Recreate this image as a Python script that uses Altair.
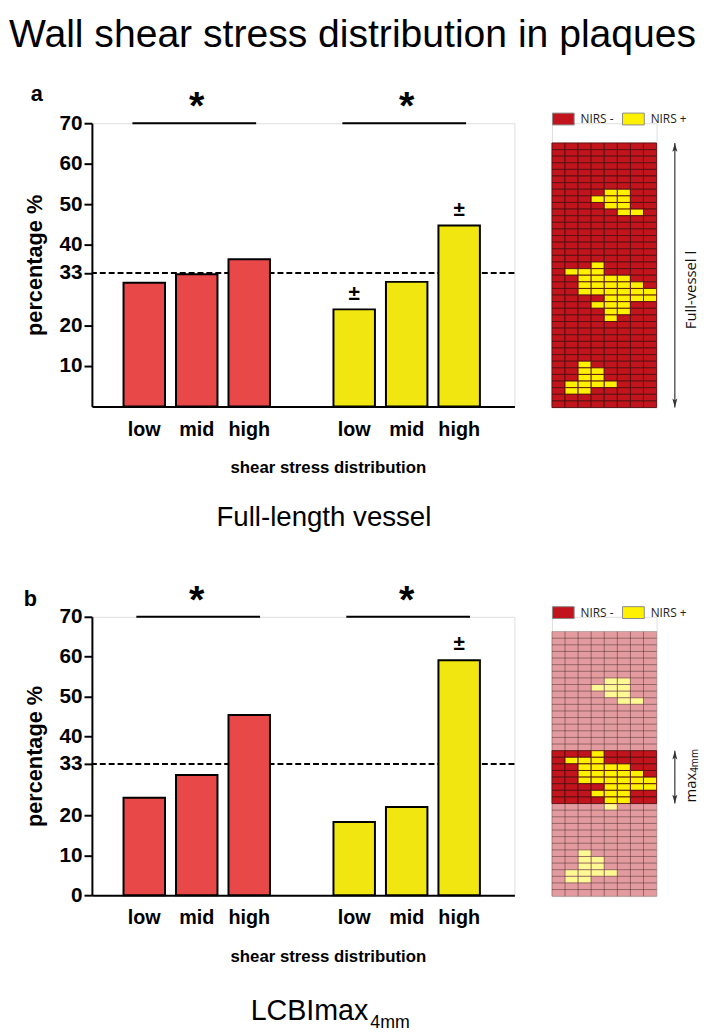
import altair as alt
import pandas as pd

# ---------------- data ----------------
groups = ["NIRS -", "NIRS +"]
levels = ["low", "mid", "high"]
full_nirs_neg = [30.6, 32.7, 36.4]
full_nirs_pos = [24.0, 30.8, 44.7]
lcbi_nirs_neg = [24.5, 30.2, 45.3]
lcbi_nirs_pos = [18.4, 22.2, 59.1]
reference_pct = [33]
sig_level = 70
y_ticks_a = [10, 20, 33, 40, 50, 60, 70]
y_ticks_b = [0, 10, 20, 33, 40, 50, 60, 70]
full_pm = [("NIRS +", "low"), ("NIRS +", "high")]
lcbi_pm = [("NIRS +", "high")]

grid_rows = 40
grid_cols = 8
nirs_pos_cells = {
    7: [4, 5], 8: [3, 4, 5], 9: [4, 5], 10: [5, 6],
    18: [3], 19: [1, 2, 3], 20: [2, 3, 4, 5], 21: [2, 3, 4, 5, 6],
    22: [2, 3, 4, 5, 6, 7], 23: [4, 5, 6, 7], 24: [3, 4, 5], 25: [4, 5], 26: [4],
    33: [2], 34: [2, 3], 35: [2, 3], 36: [1, 2, 3, 4], 37: [1, 2],
}
full_segment = [0, 40]
lcbi_segment = [18, 26]

# ---------------- style ----------------
FONT = "Liberation Sans"
RED = "#E94848"
YEL = "#F1E60F"
GRID_NEG = "#C1141D"
GRID_POS = "#FFF100"
BOX = "M-1,-0.545L1,-0.545L1,0.545L-1,0.545Z"
HEAD_UP = "M0,0L0.45,1.6L0,1.25L-0.45,1.6Z"
HEAD_DN = "M0,0L0.45,-1.6L0,-1.25L-0.45,-1.6Z"

slot_domain = [f"{groups[0]}|{l}" for l in levels] + ["gap"] + [f"{groups[1]}|{l}" for l in levels]
xscale = alt.Scale(domain=slot_domain, paddingInner=0.21, paddingOuter=0.63, align=0.478)


def bars_df(neg, pos):
    rows = []
    for g, vals in zip(groups, [neg, pos]):
        for l, v in zip(levels, vals):
            rows.append({"group": g, "level": l, "slot": f"{g}|{l}", "value": v})
    return pd.DataFrame(rows)


def txt(s):
    return pd.DataFrame({"t": [s]})


def bar_panel(neg, pos, ticks, pm, letter, letter_xy, sig_off, extra_layers, height):
    df = bars_df(neg, pos)
    xaxis = alt.Axis(
        title="shear stress distribution",
        labelExpr="datum.label == 'gap' ? '' : split(datum.label, '|')[1]",
        ticks=False, tickSize=0, domainWidth=2, domainColor="black",
        labelAngle=0, labelFontSize=20, labelFontWeight="bold", labelFont=FONT,
        labelColor="black", labelBaseline="alphabetic", labelPadding=29,
        titleFontSize=17, titleFontWeight="bold", titleFont=FONT, titleColor="black",
        titleX=239, titleY=67, titleBaseline="alphabetic",
    )
    yaxis = alt.Axis(
        values=ticks, title="percentage %", grid=False,
        domainWidth=2, domainColor="black", tickWidth=2, tickColor="black", tickSize=8,
        labelFontSize=21, labelFontWeight="bold", labelFont=FONT, labelColor="black",
        labelPadding=2, titleFontSize=22, titleFontWeight="bold", titleFont=FONT,
        titleColor="black", titlePadding=13,
    )
    yscale = alt.Scale(domain=[0, 70], nice=False)
    bars = alt.Chart(df).mark_bar(stroke="black", strokeWidth=2).encode(
        x=alt.X("slot:N", scale=xscale, axis=xaxis),
        y=alt.Y("value:Q", scale=yscale, axis=yaxis),
        color=alt.Color("group:N", scale=alt.Scale(domain=groups, range=[RED, YEL]), legend=None),
    )
    dash = alt.Chart(pd.DataFrame({"value": reference_pct})).mark_rule(
        strokeDash=[6, 3], strokeWidth=2, color="black"
    ).encode(y=alt.Y("value:Q", scale=yscale))
    sig = pd.DataFrame({
        "slot": [f"{g}|{levels[0]}" for g in groups],
        "slot2": [f"{g}|{levels[-1]}" for g in groups],
        "mid": [f"{g}|{levels[1]}" for g in groups],
        "value": [sig_level, sig_level],
        "t": ["*", "*"],
    })
    sig_rule = alt.Chart(sig).mark_rule(
        strokeWidth=2, color="black", xOffset=sig_off[0], x2Offset=sig_off[1]
    ).encode(x=alt.X("slot:N", scale=xscale), x2="slot2:N", y=alt.Y("value:Q", scale=yscale))
    stars = alt.Chart(sig).mark_text(
        fontSize=40, fontWeight="bold", font=FONT, baseline="alphabetic", dy=-4, color="black"
    ).encode(x=alt.X("mid:N", scale=xscale), y=alt.Y("value:Q", scale=yscale), text="t:N")
    pm_df = df[[(g, l) in pm for g, l in zip(df.group, df.level)]].assign(t="±")
    pms = alt.Chart(pm_df).mark_text(
        fontSize=21, fontWeight="bold", font=FONT, baseline="alphabetic", dy=-10, color="black"
    ).encode(x=alt.X("slot:N", scale=xscale), y=alt.Y("value:Q", scale=yscale), text="t:N")
    lab = alt.Chart(txt(letter)).mark_text(
        fontSize=22, fontWeight="bold", font=FONT, align="left", baseline="alphabetic", color="black"
    ).encode(x=alt.value(letter_xy[0]), y=alt.value(letter_xy[1]), text="t:N")
    layers = [dash, bars, sig_rule, stars, pms, lab] + extra_layers
    return alt.layer(*layers).properties(width=428, height=height)


def grid_panel(segment, pale, top_pad, height, arrow_text_layers):
    rows = []
    for r in range(grid_rows):
        for c in range(grid_cols):
            status = groups[1] if c in nirs_pos_cells.get(r, []) else groups[0]
            inside = (not pale) or (segment[0] <= r < segment[1])
            rows.append({"row": r, "col": c, "status": status, "inside": inside})
    gdf = pd.DataFrame(rows)
    xs = alt.Scale(domain=[0, grid_cols], nice=False, zero=False)
    ys = alt.Scale(domain=[top_pad, grid_rows], reverse=True, nice=False, zero=False)
    cells = alt.Chart(gdf).mark_rect(stroke="#551010", strokeWidth=0.9).transform_calculate(
        row2="datum.row + 1", col2="datum.col + 1"
    ).encode(
        x=alt.X("col:Q", scale=xs, axis=None), x2="col2:Q",
        y=alt.Y("row:Q", scale=ys, axis=None), y2="row2:Q",
        color=alt.Color(
            "status:N",
            scale=alt.Scale(domain=groups, range=[GRID_NEG, GRID_POS]),
            legend=alt.Legend(
                title=None, orient="none", legendX=0, legendY=-16,
                direction="horizontal", symbolType=BOX, symbolSize=484,
                symbolStrokeColor="#8a8a8a", symbolStrokeWidth=1, symbolOpacity=1,
                labelFont="Open Sans", labelFontSize=12, labelColor="#222",
                labelOffset=6, columnPadding=6, padding=0,
            ),
        ),
        opacity=alt.condition("datum.inside", alt.value(1), alt.value(0.42)),
    )
    seg = pd.DataFrame({"y0": [segment[0]], "y1": [segment[1]]})
    arrow = alt.Chart(seg).mark_rule(color="#333", strokeWidth=1.2).encode(
        x=alt.value(124.5), y=alt.Y("y0:Q", scale=ys), y2="y1:Q"
    )
    head_up = alt.Chart(seg).mark_point(shape=HEAD_UP, size=127, filled=True, color="#333", opacity=1).encode(
        x=alt.value(124.5), y=alt.Y("y0:Q", scale=ys)
    )
    head_dn = alt.Chart(seg).mark_point(shape=HEAD_DN, size=127, filled=True, color="#333", opacity=1).encode(
        x=alt.value(124.5), y=alt.Y("y1:Q", scale=ys)
    )
    return alt.layer(cells, arrow, head_up, head_dn, *arrow_text_layers).properties(width=106, height=height)


# ---------------- annotations ----------------
title_layer = alt.Chart(txt("Wall shear stress distribution in plaques")).mark_text(
    fontSize=39.6, font=FONT, align="left", baseline="alphabetic", color="black"
).encode(x=alt.value(-84), y=alt.value(-77), text="t:N")
sub_a = alt.Chart(txt("Full-length vessel")).mark_text(
    fontSize=28, font=FONT, align="center", baseline="alphabetic", color="black"
).encode(x=alt.value(235), y=alt.value(408), text="t:N")
sub_b1 = alt.Chart(txt("LCBImax")).mark_text(
    fontSize=29, font=FONT, align="right", baseline="alphabetic", color="black"
).encode(x=alt.value(280), y=alt.value(408), text="t:N")
sub_b2 = alt.Chart(txt("4mm")).mark_text(
    fontSize=18, font=FONT, align="left", baseline="alphabetic", color="black"
).encode(x=alt.value(282), y=alt.value(417), text="t:N")

arrow_a_txt = alt.Chart(txt("Full-vessel l")).mark_text(
    fontSize=15, font="Open Sans", angle=270, align="center", baseline="middle", color="#111"
).encode(x=alt.value(141), y=alt.value(169), text="t:N")
arrow_b_txt1 = alt.Chart(txt("max")).mark_text(
    fontSize=15, font="Open Sans", angle=270, align="right", baseline="middle", color="#111"
).encode(x=alt.value(141), y=alt.value(158), text="t:N")
arrow_b_txt2 = alt.Chart(txt("4mm")).mark_text(
    fontSize=10, font="Open Sans", angle=270, align="left", baseline="middle", color="#111", dy=4
).encode(x=alt.value(141), y=alt.value(158), text="t:N")

barA = bar_panel(full_nirs_neg, full_nirs_pos, y_ticks_a, full_pm, "a", (-62, -22), (-12, 7),
                 [title_layer, sub_a], 287)
barB = bar_panel(lcbi_nirs_neg, lcbi_nirs_pos, y_ticks_b, lcbi_pm, "b", (-69, -11), (-8, 11),
                 [sub_b1, sub_b2], 282)
gridA = grid_panel(full_segment, False, 40 - 288 / 6.7, 288, [arrow_a_txt])
gridB = grid_panel(lcbi_segment, True, 40 - 283 / 6.7, 283, [arrow_b_txt1, arrow_b_txt2])

chart = alt.concat(
    barA, gridA, barB, gridB, columns=2, bounds="flush",
    spacing={"row": 212, "column": 38}, padding=0,
).resolve_scale(
    color="independent", x="independent", y="independent"
).resolve_legend(color="independent").configure_view(stroke=None).configure(background="white")

chart.save("out.html", embed_options={"renderer": "svg", "actions": False})
